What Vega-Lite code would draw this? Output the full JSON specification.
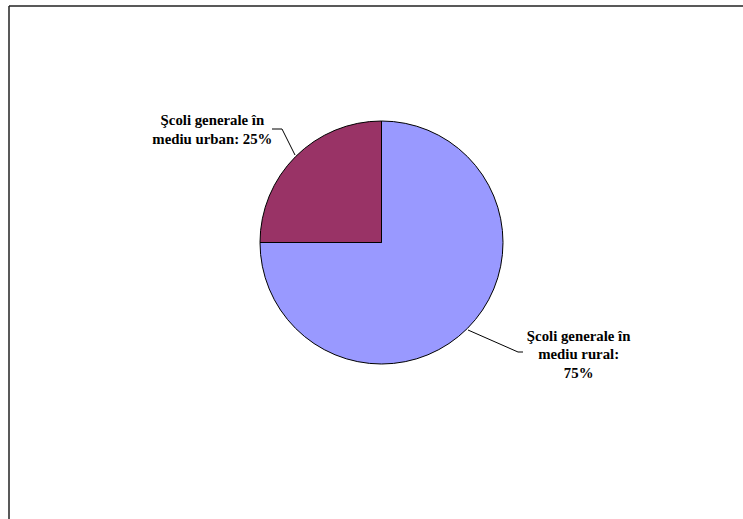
{
  "$schema": "https://vega.github.io/schema/vega-lite/v6.json",
  "width": 743,
  "height": 519,
  "autosize": {"type": "fit", "contains": "padding"},
  "padding": 0,
  "background": "white",
  "config": {"view": {"stroke": null}},
  "data": {
    "values": [
      {"categorie": "Şcoli generale în mediu rural", "procent": 75, "eticheta": "Şcoli generale în\nmediu rural:\n75%"},
      {"categorie": "Şcoli generale în mediu urban", "procent": 25, "eticheta": "Şcoli generale în\nmediu urban: 25%"}
    ]
  },
  "layer": [
    {
      "mark": {"type": "arc", "stroke": "black", "strokeWidth": 1, "outerRadius": 121.5},
      "encoding": {
        "x": {"value": 381.5},
        "y": {"value": 242.5},
        "theta": {"field": "procent", "type": "quantitative", "stack": true},
        "order": {"field": "procent", "sort": "descending"},
        "color": {
          "field": "categorie",
          "type": "nominal",
          "scale": {"domain": ["Şcoli generale în mediu rural", "Şcoli generale în mediu urban"], "range": ["#9999FF", "#993366"]},
          "legend": null
        }
      }
    },
    {
      "mark": {"type": "text", "font": "Liberation Serif", "fontWeight": "bold", "fontSize": 14.8, "lineBreak": "\n", "lineHeight": 19, "align": "center", "baseline": "middle", "radius": 160, "dx": -56, "dy": -8, "color": "black"},
      "encoding": {
        "x": {"value": 381.5},
        "y": {"value": 242.5},
        "theta": {"field": "procent", "type": "quantitative", "stack": true},
        "order": {"field": "procent", "sort": "descending"},
        "text": {"condition": {"test": "datum.procent === 25", "field": "eticheta"}, "value": ""}
      }
    },
    {
      "mark": {"type": "text", "font": "Liberation Serif", "fontWeight": "bold", "fontSize": 14.8, "lineBreak": "\n", "lineHeight": 18.5, "align": "center", "baseline": "middle", "radius": 160, "dx": 84, "dy": -19, "color": "black"},
      "encoding": {
        "x": {"value": 381.5},
        "y": {"value": 242.5},
        "theta": {"field": "procent", "type": "quantitative", "stack": true},
        "order": {"field": "procent", "sort": "descending"},
        "text": {"condition": {"test": "datum.procent === 75", "field": "eticheta"}, "value": ""}
      }
    },
    {
      "data": {"values": [{}]},
      "mark": {"type": "rule", "color": "black", "strokeWidth": 1},
      "encoding": {"x": {"value": 272}, "y": {"value": 129}, "x2": {"value": 282}, "y2": {"value": 129}}
    },
    {
      "data": {"values": [{}]},
      "mark": {"type": "rule", "color": "black", "strokeWidth": 1},
      "encoding": {"x": {"value": 282}, "y": {"value": 129}, "x2": {"value": 295}, "y2": {"value": 155}}
    },
    {
      "data": {"values": [{}]},
      "mark": {"type": "rule", "color": "black", "strokeWidth": 1},
      "encoding": {"x": {"value": 468}, "y": {"value": 330}, "x2": {"value": 518}, "y2": {"value": 352}}
    },
    {
      "data": {"values": [{}]},
      "mark": {"type": "rule", "color": "black", "strokeWidth": 1},
      "encoding": {"x": {"value": 518}, "y": {"value": 352}, "x2": {"value": 523}, "y2": {"value": 352}}
    },
    {
      "data": {"values": [{}]},
      "mark": {"type": "rule", "color": "#222222", "strokeWidth": 1.5},
      "encoding": {"x": {"value": 9}, "y": {"value": 6}, "x2": {"value": 9}, "y2": {"value": 519}}
    },
    {
      "data": {"values": [{}]},
      "mark": {"type": "rule", "color": "#222222", "strokeWidth": 1.5},
      "encoding": {"x": {"value": 9}, "y": {"value": 6}, "x2": {"value": 743}, "y2": {"value": 6}}
    }
  ]
}
